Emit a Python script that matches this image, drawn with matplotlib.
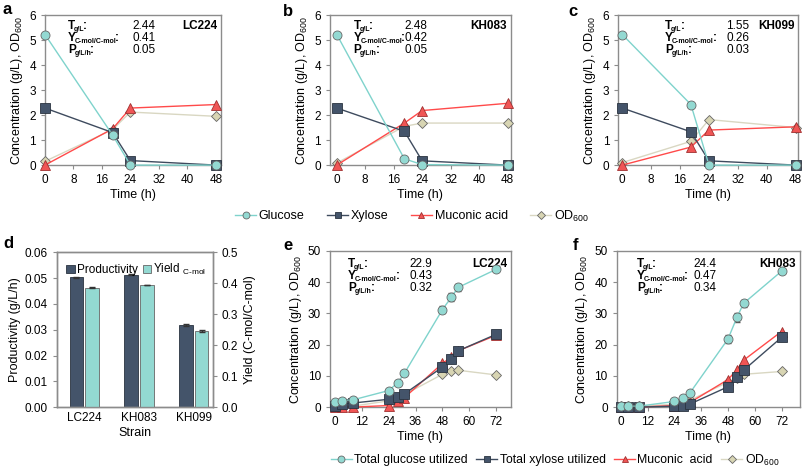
import matplotlib.pyplot as plt
import numpy as np
from matplotlib.transforms import offset_copy

plt.rcParams['font.family'] = ['Liberation Sans', 'DejaVu Sans']
plt.rcParams['mathtext.fontset'] = 'custom'
plt.rcParams['mathtext.rm'] = 'Liberation Sans'
plt.rcParams['mathtext.bf'] = 'Liberation Sans:bold'
plt.rcParams['font.size'] = 8

# --- shake flask data (a-c) ---
t_flask = [0, 19, 24, 48]
glc_a = [5.22, 1.2, 0.0, 0.0]
xyl_a = [2.28, 1.3, 0.18, 0.0]
muc_a = [0.0, 1.45, 2.28, 2.42]
od_a = [0.15, 1.42, 2.12, 1.95]

glc_b = [5.22, 0.25, 0.02, 0.0]
xyl_b = [2.28, 1.35, 0.17, 0.0]
muc_b = [0.0, 1.68, 2.18, 2.47]
od_b = [0.08, 1.55, 1.68, 1.68]

glc_c = [5.22, 2.42, 0.0, 0.0]
xyl_c = [2.28, 1.33, 0.17, 0.0]
muc_c = [0.0, 0.72, 1.4, 1.53]
od_c = [0.1, 0.95, 1.82, 1.5]

# --- productivity / yield (d) ---
strains = ['LC224', 'KH083', 'KH099']
productivity = [0.0503, 0.0513, 0.0320]
prod_err = [0.0003, 0.0002, 0.0004]
yield_cmol = [0.386, 0.394, 0.246]
yield_err = [0.002, 0.001, 0.003]

# --- bioreactor data (e-f) ---
t_bio = [0, 3, 8, 24, 28, 31, 48, 52, 55, 72]
glc_e = [1.6, 2.1, 2.3, 5.3, 7.8, 10.8, 31.2, 35.2, 38.3, 44.1]
glc_e_err = [0.2, 0.2, 0.2, 0.3, 0.3, 0.3, 1.2, 1.2, 1.2, 0.6]
xyl_e = [0.3, 1.0, 1.3, 2.5, 3.2, 4.2, 12.8, 15.5, 18.0, 23.3]
muc_e = [0.0, 0.0, 0.0, 0.5, 1.8, 3.0, 14.0, 16.0, 18.0, 23.0]
od_e = [0.3, 0.3, 0.3, 2.0, 3.0, 4.0, 10.5, 11.5, 11.8, 10.3]

glc_f = [0.3, 0.3, 0.3, 1.8, 3.0, 4.6, 21.8, 28.7, 33.2, 43.5]
glc_f_err = [0.1, 0.1, 0.1, 0.2, 0.2, 0.3, 1.3, 1.3, 1.2, 0.5]
xyl_f = [0.0, 0.0, 0.0, 0.3, 0.5, 1.0, 6.5, 9.5, 11.8, 22.3]
muc_f = [0.0, 0.0, 0.0, 0.5, 1.0, 1.5, 8.8, 12.0, 15.0, 24.2]
od_f = [0.3, 0.3, 0.3, 0.9, 1.5, 2.2, 8.0, 9.3, 10.5, 11.4]

# annotation text
stats_a = ['2.44', '0.41', '0.05']
stats_b = ['2.48', '0.42', '0.05']
stats_c = ['1.55', '0.26', '0.03']
stats_e = ['22.9', '0.43', '0.32']
stats_f = ['24.4', '0.47', '0.34']

C_GLC = '#7fd3cc'
C_GLC_F = '#93d9d2'
C_XYL = '#3e4b5e'
C_XYL_F = '#44546a'
C_MUC = '#ff4a4a'
C_MUC_F = '#f05555'
C_OD = '#d9d7c2'
C_OD_F = '#d8d5b3'
EDGE = '#666666'
SPINE = '#8c8c8c'

fig = plt.figure(figsize=(8.03, 4.69), dpi=100)
renderer = fig.canvas.get_renderer()


def style_axes(ax):
    for s in ax.spines.values():
        s.set_color(SPINE)
        s.set_linewidth(1.0)
    ax.tick_params(colors='black', length=3, width=0.8, color=SPINE, labelsize=8.5)


def draw_time(ax, t, glc, xyl, muc, od, ms, glc_err=None):
    ax.plot(t, od, '-', color=C_OD, lw=1, marker='D', ms=ms * 0.75, mfc=C_OD_F,
            mec=EDGE, mew=0.6, clip_on=False, zorder=3)
    ax.plot(t, muc, '-', color=C_MUC, lw=1, marker='^', ms=ms, mfc=C_MUC_F,
            mec='#a03030', mew=0.6, clip_on=False, zorder=4)
    ax.plot(t, xyl, '-', color=C_XYL, lw=1, marker='s', ms=ms, mfc=C_XYL_F,
            mec='#2a3340', mew=0.6, clip_on=False, zorder=5)
    if glc_err is not None:
        ax.errorbar(t, glc, yerr=glc_err, fmt='none', ecolor='#555555', elinewidth=0.8,
                    capsize=2, zorder=5)
    ax.plot(t, glc, '-', color=C_GLC, lw=1, marker='o', ms=ms, mfc=C_GLC_F,
            mec=EDGE, mew=0.6, clip_on=False, zorder=6)
    style_axes(ax)
    ax.set_xlabel('Time (h)', fontsize=9, labelpad=2)
    ax.set_ylabel('Concentration (g/L), OD$_{600}$', fontsize=9, labelpad=3)


def rich_text(ax, x, y, parts):
    # parts: (text, size, dy in points) drawn one after another
    dx = 0
    for s, size, dy in parts:
        tr = offset_copy(ax.transAxes, fig=fig, x=dx, y=dy, units='points')
        t = ax.text(x, y, s, transform=tr, fontsize=size, fontweight='bold',
                    va='baseline', ha='left')
        dx += t.get_window_extent(renderer).width * 72 / fig.dpi - 0.8


def stats_text(ax, x0, x1, ys, vals, strain):
    subs = [('T', 'g/L'), ('Y', 'C-mol/C-mol'), ('P', 'g/L/h')]
    for (main, sub), v, y in zip(subs, vals, ys):
        rich_text(ax, x0, y, [(main, 8.5, 0), (sub, 5.0, -1.6), (':', 8.5, 0)])
        ax.text(x1, y, v, transform=ax.transAxes, fontsize=8.5, va='baseline', ha='left')
    ax.text(0.98, ys[0], strain, transform=ax.transAxes, fontsize=8.5, fontweight='bold',
            va='baseline', ha='right')


# panel a
ax_a = fig.add_axes([0.056, 0.648, 0.219, 0.320])
draw_time(ax_a, t_flask, glc_a, xyl_a, muc_a, od_a, ms=6.5)
ax_a.set_xlim(0, 49.4)
ax_a.set_ylim(0, 6)
ax_a.set_xticks(np.arange(0, 49, 8))
stats_text(ax_a, 0.13, 0.495, [0.905, 0.828, 0.75], stats_a, 'LC224')

# panel b
ax_b = fig.add_axes([0.411, 0.648, 0.225, 0.320])
draw_time(ax_b, t_flask, glc_b, xyl_b, muc_b, od_b, ms=6.5)
ax_b.set_xlim(-1.9, 48.9)
ax_b.set_ylim(0, 6)
ax_b.set_xticks(np.arange(0, 49, 8))
stats_text(ax_b, 0.13, 0.41, [0.905, 0.828, 0.75], stats_b, 'KH083')

# panel c
ax_c = fig.add_axes([0.770, 0.648, 0.224, 0.320])
draw_time(ax_c, t_flask, glc_c, xyl_c, muc_c, od_c, ms=6.5)
ax_c.set_xlim(-1.1, 48.7)
ax_c.set_ylim(0, 6)
ax_c.set_xticks(np.arange(0, 49, 8))
stats_text(ax_c, 0.26, 0.60, [0.905, 0.828, 0.75], stats_c, 'KH099')

# panel d
ax_d = fig.add_axes([0.071, 0.132, 0.194, 0.330])
ax_d2 = ax_d.twinx()
x = np.arange(len(strains))
w = 0.25
ax_d.bar(x - 0.145, productivity, w, color=C_XYL_F, edgecolor='#2a3340', lw=0.6,
         yerr=prod_err, capsize=2, error_kw=dict(elinewidth=0.7, ecolor='#333333'),
         label='Productivity')
ax_d2.bar(x + 0.145, yield_cmol, w, color=C_GLC_F, edgecolor='#666666', lw=0.6,
          yerr=yield_err, capsize=2, error_kw=dict(elinewidth=0.7, ecolor='#333333'),
          label='Yield $_{\\mathrm{C\\text{-}mol}}$')
ax_d.set_xlim(-0.5, 2.35)
ax_d.set_ylim(0, 0.06)
ax_d2.set_ylim(0, 0.5)
ax_d.set_yticks(np.arange(0, 0.061, 0.01))
ax_d.set_yticklabels(['%.2f' % v for v in np.arange(0, 0.061, 0.01)])
ax_d2.set_yticks(np.arange(0, 0.51, 0.1))
ax_d2.set_yticklabels(['%.1f' % v for v in np.arange(0, 0.51, 0.1)])
ax_d.set_xticks(x)
ax_d.set_xticklabels(strains)
ax_d.set_xlabel('Strain', fontsize=9, labelpad=2)
ax_d.set_ylabel('Productivity (g/L/h)', fontsize=9, labelpad=3)
ax_d2.set_ylabel('Yield (C-mol/C-mol)', fontsize=9, labelpad=4)
style_axes(ax_d)
style_axes(ax_d2)
ax_d.tick_params(axis='x', length=0)
h1, l1 = ax_d.get_legend_handles_labels()
h2, l2 = ax_d2.get_legend_handles_labels()
ax_d2.legend(h1 + h2, l1 + l2, loc='upper left', bbox_to_anchor=(0.0, 1.0), ncol=2,
             frameon=False, fontsize=8.5, handlelength=0.7, handleheight=0.7,
             handletextpad=0.2, columnspacing=0.4, borderaxespad=0.4)

# panel e
ax_e = fig.add_axes([0.411, 0.132, 0.225, 0.333])
draw_time(ax_e, t_bio, glc_e, xyl_e, muc_e, od_e, ms=6.5, glc_err=glc_e_err)
ax_e.set_xlim(-2.2, 78.5)
ax_e.set_ylim(0, 50)
ax_e.set_xticks(np.arange(0, 73, 12))
stats_text(ax_e, 0.10, 0.44, [0.9, 0.823, 0.745], stats_e, 'LC224')

# panel f
ax_f = fig.add_axes([0.768, 0.132, 0.228, 0.333])
draw_time(ax_f, t_bio, glc_f, xyl_f, muc_f, od_f, ms=6.5, glc_err=glc_f_err)
ax_f.set_xlim(-1.9, 80.2)
ax_f.set_ylim(0, 50)
ax_f.set_xticks(np.arange(0, 73, 12))
stats_text(ax_f, 0.11, 0.42, [0.9, 0.823, 0.745], stats_f, 'KH083')

# panel letters
for lab, (px, py) in zip('abcdef', [(3, 9), (283, 12), (568, 12), (3, 243), (283, 245), (573, 245)]):
    fig.text(px / 803, 1 - py / 469, lab, fontsize=12, fontweight='bold', va='center', ha='left')


# legends
def legend_handles(ms):
    kw = dict(lw=1, mew=0.6)
    return [
        plt.Line2D([], [], color=C_GLC, marker='o', ms=ms, mfc=C_GLC_F, mec=EDGE, **kw),
        plt.Line2D([], [], color=C_XYL, marker='s', ms=ms, mfc=C_XYL_F, mec='#2a3340', **kw),
        plt.Line2D([], [], color=C_MUC, marker='^', ms=ms, mfc=C_MUC_F, mec='#a03030', **kw),
        plt.Line2D([], [], color=C_OD, marker='D', ms=ms * 0.8, mfc=C_OD_F, mec=EDGE, **kw),
    ]


fig.legend(legend_handles(5), ['Glucose', 'Xylose', 'Muconic acid', 'OD$_{600}$'],
           loc='center', bbox_to_anchor=(412 / 803, 1 - 216 / 469), ncol=4,
           frameon=False, fontsize=9, handlelength=1.7, handletextpad=0.2, columnspacing=1.8)
fig.legend(legend_handles(5), ['Total glucose utilized', 'Total xylose utilized', 'Muconic  acid', 'OD$_{600}$'],
           loc='center', bbox_to_anchor=(555 / 803, 1 - 460 / 469), ncol=4,
           frameon=False, fontsize=8.8, handlelength=1.7, handletextpad=0.2, columnspacing=0.7)

fig.savefig('out.png', dpi=100)
